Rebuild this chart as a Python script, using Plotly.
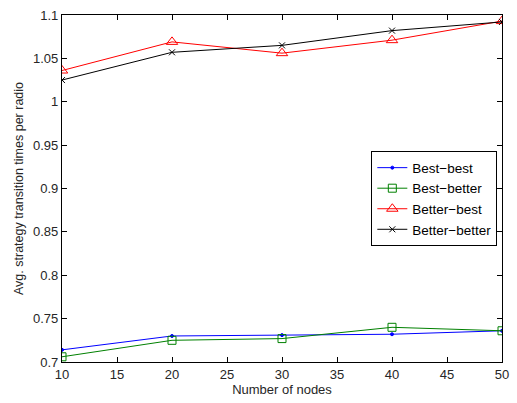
import plotly.graph_objects as go

nodes = [10, 20, 30, 40, 50]
best_best = [0.714, 0.730, 0.731, 0.732, 0.736]
best_better = [0.706, 0.725, 0.727, 0.740, 0.736]
better_best = [1.036, 1.069, 1.056, 1.071, 1.093]
better_better = [1.025, 1.057, 1.065, 1.082, 1.092]

series = [
    ("Best\u2212best", best_best, "#0000ff", "circle", 3),
    ("Best\u2212better", best_better, "#008000", "square-open", 8),
    ("Better\u2212best", better_best, "#ff0000", "triangle-up-open", 10),
    ("Better\u2212better", better_better, "#000000", "x-thin-open", 6),
]

fig = go.Figure()
for name, ys, color, sym, size in series:
    fig.add_trace(go.Scatter(
        x=nodes, y=ys, name=name, mode="lines+markers",
        line=dict(color=color, width=1),
        marker=dict(symbol=sym, size=size, color=color, line=dict(color=color, width=1)),
    ))

font = dict(family="Liberation Sans, Arial, sans-serif", size=13, color="#262626")
axis_common = dict(showgrid=False, zeroline=False, showline=True, linecolor="black",
                   linewidth=1.2, mirror="ticks", ticks="inside", ticklen=5,
                   tickcolor="black", tickfont=font)
fig.update_xaxes(range=[10, 50], dtick=5, tick0=10,
                 title=dict(text="Number of nodes", font=font, standoff=2), **axis_common)
fig.update_yaxes(range=[0.7, 1.1], dtick=0.05, tick0=0.7,
                 title=dict(text="Avg. strategy transition times per radio",
                            font=dict(family="Liberation Sans, Arial, sans-serif", size=12.5, color="#262626"),
                            standoff=6),
                 **axis_common)
fig.update_layout(
    width=517, height=403,
    margin=dict(l=62, r=8, t=11, b=41),
    plot_bgcolor="white", paper_bgcolor="white",
    font=font,
    legend=dict(x=0.703, y=0.607, xanchor="left", yanchor="top",
                bordercolor="black", borderwidth=1, bgcolor="white",
                font=dict(family="Liberation Sans, Arial, sans-serif", size=13.5, color="black"),
                tracegroupgap=0, itemsizing="trace"),
    showlegend=True,
)
fig.write_html("out.html")
